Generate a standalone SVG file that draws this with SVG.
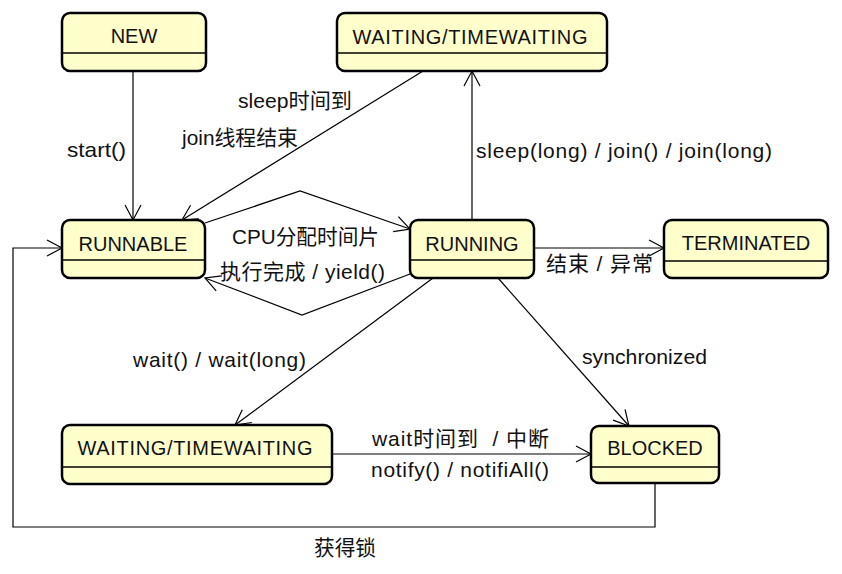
<svg xmlns="http://www.w3.org/2000/svg" width="842" height="574" viewBox="0 0 842 574">
<style>
.n rect{fill:#FFFFCC;stroke:#000;stroke-width:2.5}
.n line{stroke:#000;stroke-width:1.5}
text{font-family:"Liberation Sans","Noto Sans CJK SC",sans-serif;font-size:20px;fill:#111}
#edges text{font-size:21px}
.n text{text-anchor:middle}
#edges path{fill:none;stroke:#000;stroke-width:1.2}
</style>
<defs>
<marker id="a" viewBox="-17 -10 19 20" refX="0" refY="0" markerWidth="19" markerHeight="20" orient="auto" markerUnits="userSpaceOnUse">
<path d="M-15,-8 L0,0 L-15,8" fill="none" stroke="#000" stroke-width="1.2"/>
</marker>
</defs>
<rect width="842" height="574" fill="#fff"/>
<g id="edges">
<path d="M133,71 L133,220" marker-end="url(#a)"/>
<path d="M423,71 L182,220" marker-end="url(#a)"/>
<path d="M472,220 L472,71" marker-end="url(#a)"/>
<path d="M205,223 L300,191 L410,229" marker-end="url(#a)"/>
<path d="M410,274 L302,315 L205,278" marker-end="url(#a)"/>
<path d="M534,248 L664,248" marker-end="url(#a)"/>
<path d="M433,278 L235,425" marker-end="url(#a)"/>
<path d="M498,278 L629,426" marker-end="url(#a)"/>
<path d="M332,454 L591,454" marker-end="url(#a)"/>
<path d="M655,484 L655,527 L13,527 L13,248 L62,248" marker-end="url(#a)"/>
<text x="67" y="157" textLength="59" lengthAdjust="spacingAndGlyphs">start()</text>
<text x="238" y="108" textLength="114" lengthAdjust="spacingAndGlyphs">sleep时间到</text>
<text x="182" y="145" textLength="116" lengthAdjust="spacingAndGlyphs">join线程结束</text>
<text x="476" y="158" textLength="296">sleep(long) / join() / join(long)</text>
<text x="232" y="244" textLength="147" lengthAdjust="spacingAndGlyphs">CPU分配时间片</text>
<text x="220" y="279" textLength="165">执行完成 / yield()</text>
<text x="546" y="271" textLength="107">结束 / 异常</text>
<text x="133" y="367" textLength="173">wait() / wait(long)</text>
<text x="582" y="364" textLength="125" lengthAdjust="spacingAndGlyphs">synchronized</text>
<text x="372" y="446" textLength="177" xml:space="preserve">wait时间到  / 中断</text>
<text x="371" y="477" textLength="178">notify() / notifiAll()</text>
<text x="314" y="555" textLength="62" lengthAdjust="spacingAndGlyphs">获得锁</text>
</g>
<g id="new" class="n"><rect x="62" y="13" width="144" height="58" rx="8"/><line x1="63" y1="53" x2="205" y2="53"/><text x="134" y="43">NEW</text></g>
<g id="waiting-top" class="n"><rect x="337" y="13" width="270" height="58" rx="8"/><line x1="338" y1="53" x2="606" y2="53"/><text x="470" y="44" textLength="235">WAITING/TIMEWAITING</text></g>
<g id="runnable" class="n"><rect x="62" y="220" width="143" height="58" rx="8"/><line x1="63" y1="260" x2="204" y2="260"/><text x="133" y="251">RUNNABLE</text></g>
<g id="running" class="n"><rect x="410" y="220" width="124" height="58" rx="8"/><line x1="411" y1="260" x2="533" y2="260"/><text x="472" y="251">RUNNING</text></g>
<g id="terminated" class="n"><rect x="664" y="220" width="164" height="58" rx="8"/><line x1="665" y1="261" x2="827" y2="261"/><text x="746" y="250">TERMINATED</text></g>
<g id="waiting-bottom" class="n"><rect x="62" y="425" width="270" height="59" rx="8"/><line x1="63" y1="467" x2="331" y2="467"/><text x="195" y="455" textLength="235">WAITING/TIMEWAITING</text></g>
<g id="blocked" class="n"><rect x="591" y="426" width="128" height="57" rx="8"/><line x1="592" y1="467" x2="718" y2="467"/><text x="655" y="455">BLOCKED</text></g>
</svg>
